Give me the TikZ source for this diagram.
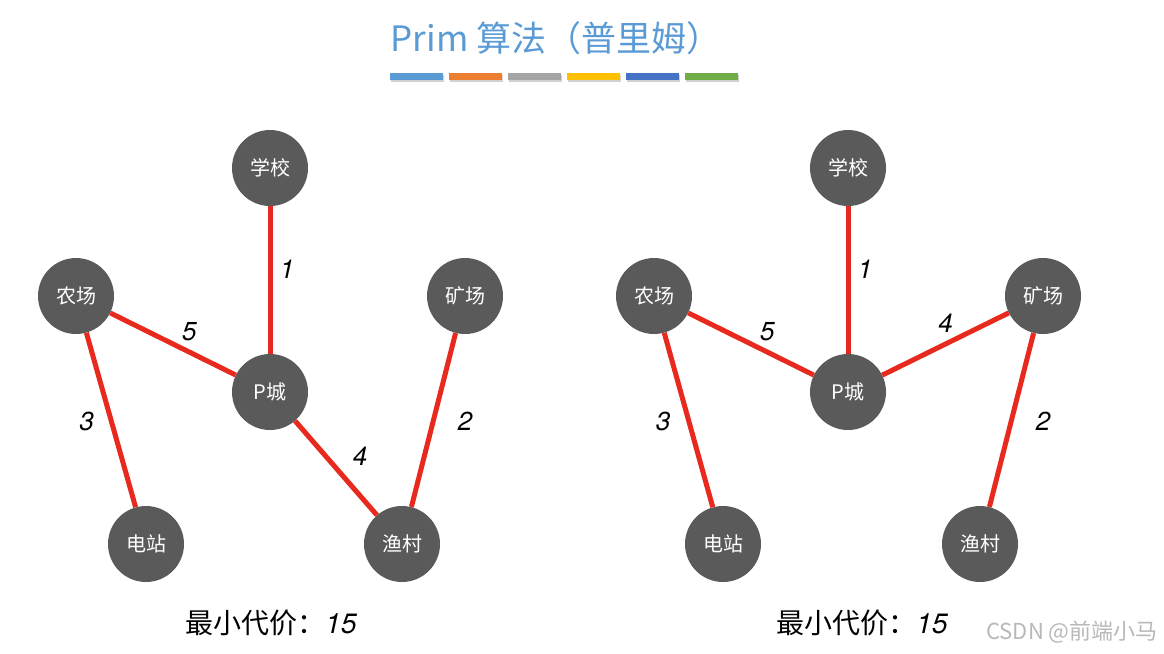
\documentclass[tikz,border=0pt]{standalone}
\usepackage{fontspec}
\setmainfont{TeX Gyre Heros}
\newfontfamily\cjk{Noto Sans CJK SC}
\usepackage{tikz}

\definecolor{titleblue}{HTML}{5B9BD5}
\definecolor{citygray}{HTML}{5A5A5A}
\definecolor{roadred}{HTML}{E8291E}
\definecolor{barblue}{HTML}{5B9BD5}
\definecolor{barorange}{HTML}{ED7D31}
\definecolor{bargray}{HTML}{A5A5A5}
\definecolor{baryellow}{HTML}{FFC000}
\definecolor{bardarkblue}{HTML}{4472C4}
\definecolor{bargreen}{HTML}{70AD47}

\begin{document}
\begin{tikzpicture}[
  x=1pt, y=-1pt,
  city/.style={circle, fill=citygray, text=white, minimum size=76pt, inner sep=0pt, font=\cjk\fontsize{20}{20}\selectfont},
  road/.style={draw=roadred, line width=5pt},
  cost/.style={inner sep=0pt, font=\itshape\fontsize{26}{26}\selectfont},
  total/.style={inner sep=0pt, font=\cjk\fontsize{28}{28}\selectfont},
  heading/.style={inner sep=0pt, text=titleblue, font=\cjk\fontsize{35}{35}\selectfont},
  wmark/.style={inner sep=0pt, text=black!28, font=\cjk\fontsize{22}{22}\selectfont}
]
\useasboundingbox (0,0) rectangle (1164,653);

\node[heading] (title) at (556,38) {Prim 算法（普里姆）};
\foreach \c [count=\i from 0] in {barblue,barorange,bargray,baryellow,bardarkblue,bargreen} {
  \fill[black!18] (391+59*\i,75) rectangle ++(53,7);
  \fill[\c] (390+59*\i,73) rectangle ++(53,7);
}

% left tree
\node[city] (schoolL) at (270,168) {学校};
\node[city] (farmL) at (76,296) {农场};
\node[city] (mineL) at (465,296) {矿场};
\node[city] (townL) at (270,392) {P城};
\node[city] (plantL) at (146,544) {电站};
\node[city] (villageL) at (402,544) {渔村};
\draw[road] (schoolL) -- node[cost, pos=.43, xshift=17pt] {1} (townL);
\draw[road] (farmL) -- node[cost, pos=.63, yshift=20pt] {5} (townL);
\draw[road] (farmL) -- node[cost, pos=.51, xshift=-25pt] {3} (plantL);
\draw[road] (townL) -- node[cost, pos=.5, xshift=24pt, yshift=12pt] {4} (villageL);
\draw[road] (mineL) -- node[cost, pos=.51, xshift=32pt] {2} (villageL);
\node[total] (costL) at (271,623) {最小代价：{\normalfont\itshape 15}};

% right tree
\node[city] (schoolR) at (848,168) {学校};
\node[city] (farmR) at (654,296) {农场};
\node[city] (mineR) at (1043,296) {矿场};
\node[city] (townR) at (848,392) {P城};
\node[city] (plantR) at (723,544) {电站};
\node[city] (villageR) at (980,544) {渔村};
\draw[road] (schoolR) -- node[cost, pos=.43, xshift=17pt] {1} (townR);
\draw[road] (farmR) -- node[cost, pos=.63, yshift=20pt] {5} (townR);
\draw[road] (townR) -- node[cost, pos=.5, yshift=21pt] {4} (mineR);
\draw[road] (farmR) -- node[cost, pos=.51, xshift=-26pt] {3} (plantR);
\draw[road] (mineR) -- node[cost, pos=.51, xshift=32pt] {2} (villageR);
\node[total] (costR) at (862,623) {最小代价：{\normalfont\itshape 15}};

\node[wmark] (watermark) at (1072,632) {CSDN @前端小马};
\end{tikzpicture}
\end{document}
